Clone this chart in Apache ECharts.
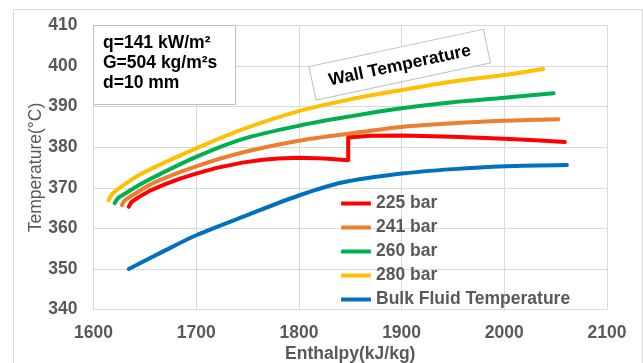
<!DOCTYPE html>
<html>
<head>
<meta charset="utf-8">
<script src="https://cdn.jsdelivr.net/npm/echarts@6/dist/echarts.min.js"></script>
<style>html,body{margin:0;padding:0;background:#fff;}#c{width:643px;height:363px;}</style>
</head>
<body>
<div id="c"></div>
<script>
var seriesNames = ['225 bar', '241 bar', '260 bar', '280 bar', 'Bulk Fluid Temperature'];
var seriesColors = ['#FF0000', '#ED7D31', '#00B050', '#FFC000', '#0070C0'];
var xTicks = [1600, 1700, 1800, 1900, 2000, 2100];
var yTicks = [340, 350, 360, 370, 380, 390, 400, 410];

var p225 = [[1634.3,365.3],[1637,366.5],[1644,367.7],[1655,369.3],[1670,370.9],[1685,372.3],[1700,373.5],[1720,374.9],[1745,376.2],[1765,376.9],[1780,377.2],[1800,377.4],[1825,377.2],[1848,376.8],[1848,382.4],[1870,382.8],[1900,382.9],[1950,382.6],[2000,382.1],[2030,381.7],[2059,381.3]];
var p241 = [[1627.7,365.7],[1630,366.8],[1637.5,368.1],[1660,371.4],[1700,375.3],[1745,378.7],[1800,381.6],[1850,383.4],[1900,385.0],[1950,385.9],[2000,386.5],[2052.6,386.9]];
var p260 = [[1620.6,366.2],[1624,367.5],[1631,368.6],[1648,371.2],[1700,377.6],[1745,382.0],[1800,385.3],[1850,387.6],[1900,389.6],[1950,391.1],[2000,392.2],[2048,393.3]];
var p280 = [[1614.8,366.9],[1618,368.4],[1624.5,369.8],[1647,373.5],[1700,379.7],[1745,384.4],[1800,388.9],[1850,391.8],[1900,394.1],[1950,396.2],[2000,397.8],[2038,399.3]];
var pBulk = [[1634.3,350.0],[1667,354.2],[1700,358.3],[1751,363.4],[1800,368.1],[1842,371.3],[1900,373.5],[1950,374.6],[2001,375.3],[2061,375.6]];
var seriesData = [p225, p241, p260, p280, pBulk];

var FONT = '"Liberation Sans", Arial, sans-serif';
var FS = 17.5;
var chart = echarts.init(document.getElementById('c'), null, {renderer: 'canvas'});

var series = seriesNames.map(function (n, i) {
  return {
    name: n,
    type: 'line',
    data: seriesData[i],
    showSymbol: false,
    smooth: i === 0 ? false : 0.3,
    lineStyle: {color: seriesColors[i], width: 4, cap: 'round', join: 'round'},
    itemStyle: {color: seriesColors[i]},
    z: 2 + (4 - i)
  };
});

chart.setOption({
  animation: false,
  backgroundColor: '#fff',
  grid: {left: 93.5, top: 25.5, width: 513.5, height: 284, containLabel: false, outerBoundsMode: 'none'},
  xAxis: {
    type: 'value', min: xTicks[0], max: xTicks[xTicks.length - 1], interval: 100,
    name: 'Enthalpy(kJ/kg)', nameLocation: 'middle', nameGap: 36, nameMoveOverlap: false,
    nameTextStyle: {color: '#595959', fontFamily: FONT, fontWeight: 'bold', fontSize: FS},
    axisLine: {show: true, lineStyle: {color: '#d9d9d9', width: 1}},
    axisTick: {show: false},
    axisLabel: {color: '#595959', fontFamily: FONT, fontWeight: 'bold', fontSize: FS, margin: 15,
      formatter: function (v) { return String(v); }},
    splitLine: {show: true, lineStyle: {color: '#d9d9d9', width: 1}}
  },
  yAxis: {
    type: 'value', min: yTicks[0], max: yTicks[yTicks.length - 1], interval: 10,
    name: 'Temperature(\u00B0C)', nameLocation: 'middle', nameGap: 48, nameMoveOverlap: false,
    nameTextStyle: {color: '#595959', fontFamily: FONT, fontSize: FS},
    axisLine: {show: true, lineStyle: {color: '#d9d9d9', width: 1}},
    axisTick: {show: false},
    axisLabel: {color: '#595959', fontFamily: FONT, fontWeight: 'bold', fontSize: FS, margin: 16},
    splitLine: {show: true, lineStyle: {color: '#d9d9d9', width: 1}}
  },
  legend: {
    data: seriesNames,
    orient: 'vertical',
    left: 341, top: 194,
    itemWidth: 30, itemHeight: 4, itemGap: 5,
    icon: 'roundRect',
    textStyle: {color: '#595959', fontFamily: FONT, fontWeight: 'bold', fontSize: FS, lineHeight: 19},
    padding: 0
  },
  graphic: [
    {type: 'rect', left: 11, top: 7, shape: {x: 0, y: 0, width: 629, height: 380}, style: {fill: 'none', stroke: '#d9d9d9', lineWidth: 1}, silent: true, z: -10},
    {type: 'rect', x: 93.5, y: 25.5, z: 100, shape: {x: 0, y: 0, width: 142, height: 79}, style: {fill: '#fff', stroke: '#bfbfbf', lineWidth: 1}},
    {type: 'text', x: 103, y: 43, z: 101, style: {text: 'q=141 kW/m\u00B2', fill: '#000', font: 'bold ' + FS + 'px ' + FONT, verticalAlign: 'middle'}},
    {type: 'text', x: 103, y: 63, z: 101, style: {text: 'G=504 kg/m\u00B2s', fill: '#000', font: 'bold ' + FS + 'px ' + FONT, verticalAlign: 'middle'}},
    {type: 'text', x: 103, y: 83, z: 101, style: {text: 'd=10 mm', fill: '#000', font: 'bold ' + FS + 'px ' + FONT, verticalAlign: 'middle'}},
    {type: 'group', x: 399.7, y: 64.7, rotation: 0.211, z: 100, children: [
      {type: 'rect', z: 100, shape: {x: -89.2, y: -17.15, width: 178.4, height: 34.3}, style: {fill: '#fff', stroke: '#bfbfbf', lineWidth: 1}},
      {type: 'text', z: 101, x: 0, y: 1, style: {text: 'Wall Temperature', fill: '#000', font: 'bold ' + FS + 'px ' + FONT, align: 'center', verticalAlign: 'middle'}}
    ]}
  ],
  series: series
});
</script>
</body>
</html>
